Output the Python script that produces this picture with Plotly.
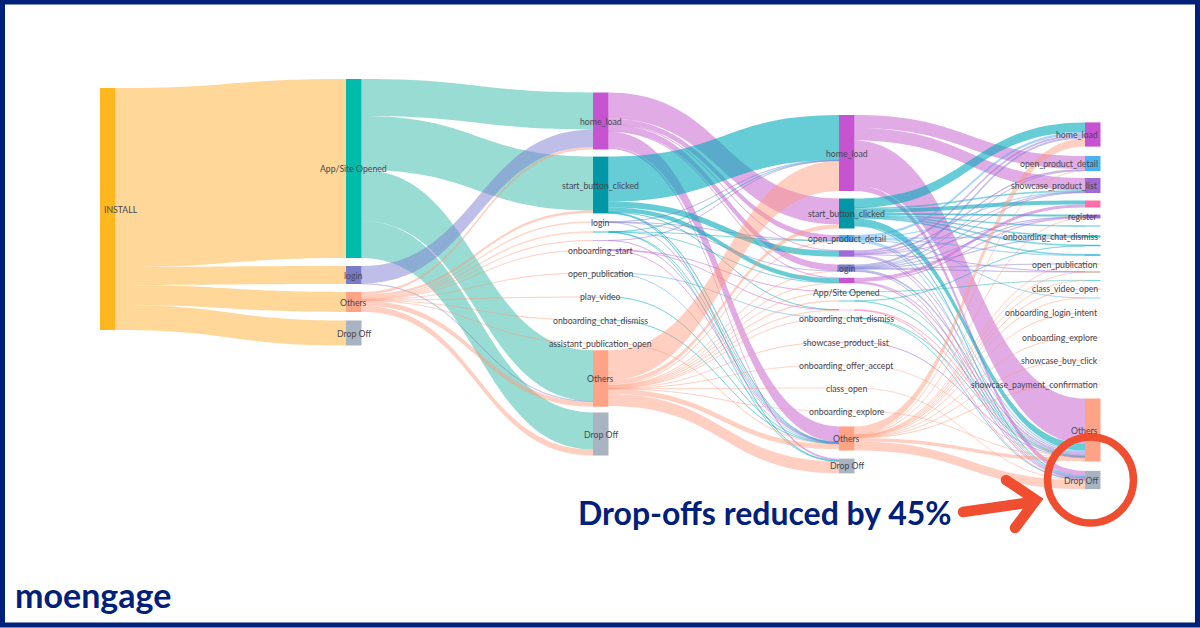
import plotly.graph_objects as go

W, H = 1200, 628

# ---------- data: nodes per column (id, label, palette key) ----------
col0_nodes = [("I", "INSTALL", "install")]
col1_nodes = [("A", "App/Site Opened", "app"), ("L", "login", "login"),
              ("O", "Others", "others"), ("D", "Drop Off", "drop")]
col2_nodes = [("h2", "home_load", "home"), ("s2", "start_button_clicked", "start"),
              ("l2", "login", "login"), ("t2", "", "teal"), ("p2", "", "purple"),
              ("os2", "onboarding_start", "home"), ("op2", "open_publication", "blue"),
              ("pv2", "play_video", "teal"), ("oc2", "onboarding_chat_dismiss", "teal"),
              ("ap2", "assistant_publication_open", "others"),
              ("O2", "Others", "others"), ("D2", "Drop Off", "drop")]
col3_nodes = [("h3", "home_load", "home"), ("s3", "start_button_clicked", "start"),
              ("d3", "open_product_detail", "blue"), ("u3", "", "purple"),
              ("l3", "login", "login"), ("m3", "", "home"),
              ("a3", "App/Site Opened", "app"), ("t3", "", "teal"), ("k3", "", "pinklight"),
              ("c3", "onboarding_chat_dismiss", "teal"), ("p3", "showcase_product_list", "purple"),
              ("f3", "onboarding_offer_accept", "others"), ("g3", "class_open", "others"),
              ("e3", "onboarding_explore", "others"),
              ("O3", "Others", "others"), ("D3", "Drop Off", "drop")]
col4_nodes = [("h4", "home_load", "home"), ("d4", "open_product_detail", "blue"),
              ("p4", "showcase_product_list", "purple"), ("k4", "", "pink"),
              ("r4", "register", "purple"), ("t4", "", "sky"),
              ("c4", "onboarding_chat_dismiss", "teal"), ("u4", "", "teal"),
              ("b4", "", "sky"), ("o4", "open_publication", "install"),
              ("w4", "", "brown"), ("g4", "", "teal"),
              ("v4", "class_video_open", "pink"), ("x4", "", "blue"),
              ("i4", "onboarding_login_intent", "others"), ("e4", "onboarding_explore", "others"),
              ("y4", "showcase_buy_click", "others"), ("z4", "showcase_payment_confirmation", "others"),
              ("O4", "Others", "others"), ("D4", "Drop Off", "drop")]

# ---------- data: flows per stage (source, target, value) ----------
flows_1 = [("I", "A", 179), ("I", "L", 18), ("I", "O", 20), ("I", "D", 25)]
flows_2 = [("A", "h2", 37), ("A", "s2", 54), ("A", "O2", 51), ("A", "D2", 37),
           ("L", "h2", 17.5), ("L", "O2", .5),
           ("O", "h2", 2.5), ("O", "s2", 2.5), ("O", "l2", .8), ("O", "t2", 1), ("O", "os2", .4),
           ("O", "p2", .4), ("O", "op2", .3), ("O", "pv2", .3), ("O", "oc2", .3), ("O", "ap2", .3),
           ("O", "O2", 5), ("O", "D2", 6)]
flows_3 = [("h2", "s3", 26), ("h2", "d3", 5.5), ("h2", "u3", .4),
           ("h2", "l3", 6.5), ("h2", "m3", .5), ("h2", "O3", 15.5), ("h2", "D3", 2),
           ("s2", "h3", 45), ("s2", "u3", 6), ("s2", "m3", 4.5), ("s2", "k3", .2),
           ("s2", "O3", .6), ("s2", "D3", .5),
           ("l2", "h3", .4), ("l2", "d3", .2), ("l2", "l3", .1), ("l2", "O3", .1),
           ("t2", "h3", .3), ("t2", "d3", .1), ("t2", "m3", .1), ("t2", "O3", .3), ("t2", "D3", .2),
           ("p2", "h3", .2), ("p2", "O3", .2),
           ("os2", "a3", .2), ("os2", "k3", .1), ("os2", "O3", .1),
           ("op2", "c3", .15), ("op2", "O3", .15), ("pv2", "O3", .3),
           ("oc2", "O3", .3), ("ap2", "O3", .3),
           ("O2", "h3", 30), ("O2", "s3", 4), ("O2", "d3", 1), ("O2", "l3", .5), ("O2", "a3", .5),
           ("O2", "t3", .8), ("O2", "k3", .5), ("O2", "m3", .3), ("O2", "c3", .3), ("O2", "p3", .3),
           ("O2", "f3", .2), ("O2", "g3", .2), ("O2", "e3", .2),
           ("O2", "O3", 5), ("O2", "D3", 12)]
flows_4 = [("h3", "d4", 13), ("h3", "p4", 12.5), ("h3", "O4", 45), ("h3", "D4", 5.5),
           ("s3", "h4", 9.5), ("s3", "p4", 1), ("s3", "k4", 4), ("s3", "r4", 2), ("s3", "t4", .8),
           ("s3", "c4", .8), ("s3", "u4", 1), ("s3", "b4", .8), ("s3", "O4", 7), ("s3", "D4", .6),
           ("d3", "h4", 2.5), ("d3", "p4", .5), ("d3", "c4", .7), ("d3", "b4", .7), ("d3", "x4", .3),
           ("d3", "O4", 1.6), ("d3", "D4", .7),
           ("u3", "h4", 2), ("u3", "d4", 1.5), ("u3", "p4", .3), ("u3", "r4", .4), ("u3", "w4", .3),
           ("u3", "O4", 1.2), ("u3", "D4", .5),
           ("l3", "h4", 2.2), ("l3", "d4", .3), ("l3", "p4", .7), ("l3", "r4", .4), ("l3", "c4", .5),
           ("l3", "w4", .4), ("l3", "o4", .3), ("l3", "O4", 1.9), ("l3", "D4", .3),
           ("m3", "k4", 3), ("m3", "r4", .8), ("m3", "O4", .8), ("m3", "D4", .9),
           ("a3", "g4", .4), ("a3", "O4", .3), ("t3", "u4", .4), ("t3", "O4", .4),
           ("k3", "O4", .4), ("k3", "D4", .4), ("c3", "O4", .2), ("c3", "D4", .2),
           ("p3", "O4", .3), ("f3", "O4", .2), ("g3", "D4", .2), ("e3", "O4", .2),
           ("O3", "h4", 8), ("O3", "d4", .3), ("O3", "r4", .3), ("O3", "o4", .4), ("O3", "w4", .3),
           ("O3", "g4", .3), ("O3", "v4", .4), ("O3", "x4", .3), ("O3", "i4", .3), ("O3", "e4", .3),
           ("O3", "y4", .3), ("O3", "z4", .4), ("O3", "O4", 3.5), ("O3", "D4", 9)]

# ---------- layout: node centres / label centres in pixels ----------
col_left_px = [100, 346, 593, 839, 1085]
col0_y = [209]
col1_y = [168.5, 275, 302, 333]
col2_y = [121, 185, 222, 232, 240.5, 250, 273, 297, 320, 343, 378.5, 434]
col3_y = [153, 213.5, 238.5, 253.5, 268, 280.5, 292, 301, 310, 318, 342, 365, 388, 411, 438.5, 466]
col4_y = [134.5, 163.5, 185.5, 204, 216.5, 226, 236.5, 245.5, 255, 264, 272, 280.5, 289, 298,
          313, 337, 360, 384, 430, 480]
thickness = 15.5

palette = {
    "install": ("#FFB71F", (255, 176, 50, 0.5)),
    "app": ("#00BBA9", (50, 185, 170, 0.5)),
    "home": ("#C653CF", (195, 90, 205, 0.5)),
    "start": ("#0097A7", (0, 170, 185, 0.6)),
    "others": ("#FFA387", (255, 150, 120, 0.45)),
    "login": ("#7A7CC9", (125, 125, 210, 0.5)),
    "drop": ("#A9B4C2", (169, 180, 194, 0.5)),
    "blue": ("#4AB2F2", (80, 170, 240, 0.5)),
    "purple": ("#9F6AD6", (155, 105, 215, 0.5)),
    "pink": ("#FF6EA5", (255, 110, 165, 0.5)),
    "pinklight": ("#FFB7D2", (255, 110, 165, 0.5)),
    "teal": ("#35C6CE", (0, 170, 185, 0.5)),
    "sky": ("#2FB4E0", (47, 180, 224, 0.5)),
    "brown": ("#B59A7A", (181, 154, 122, 0.5)),
}
NAVY = "#00207A"
RED = "#F04E30"
LABEL = "#48474f"

columns = [col0_nodes, col1_nodes, col2_nodes, col3_nodes, col4_nodes]
col_ys = [col0_y, col1_y, col2_y, col3_y, col4_y]
flows = flows_1 + flows_2 + flows_3 + flows_4

ids, labels, ncolors, xs, ys, col_idx = [], [], [], [], [], []
for c, (nodes, yy) in enumerate(zip(columns, col_ys)):
    for (nid, lab, pal), y in zip(nodes, yy):
        ids.append(nid); labels.append(lab); ncolors.append(palette[pal][0])
        xs.append((col_left_px[c] + thickness / 2) / W); ys.append(y / H); col_idx.append(c)
index = {n: i for i, n in enumerate(ids)}
link_palette = {nid: pal for nodes in columns for nid, _, pal in nodes}

# Sizing padding so that one unit of flow is one pixel: the layout justifies
# sink nodes into the last column, which therefore sets the vertical scale.
sources = {s for s, t, v in flows}
sinks = [n for n in ids if n not in sources]
incoming = {n: sum(v for s, t, v in flows if t == n) for n in ids}
node_pad = (H - sum(incoming[n] for n in sinks)) / (len(sinks) - 1)


def link_rgba(src, value):
    r, g, b, a = palette[link_palette[src]][1]
    if value < 1.2:
        a *= 0.5
    return f"rgba({r},{g},{b},{a:.3f})"


fig = go.Figure(go.Sankey(
    arrangement="fixed",
    domain=dict(x=[0, 1], y=[0, 1]),
    hoverinfo="skip",
    node=dict(label=[""] * len(ids), color=ncolors, x=xs, y=ys, pad=node_pad,
              thickness=thickness, line=dict(width=0)),
    link=dict(source=[index[s] for s, t, v in flows],
              target=[index[t] for s, t, v in flows],
              value=[v for s, t, v in flows],
              color=[link_rgba(s, v) for s, t, v in flows]),
))

def px(x): return x / W
def py(y): return 1 - y / H

annotations = []
for lab, c, y in zip(labels, col_idx, ys):
    if not lab:
        continue
    left = col_left_px[c]
    if c == 0:
        xa, anchor = left + 2, "left"
    elif c == 4:
        xa, anchor = left + 14.5, "right"
    else:
        xa, anchor = left + thickness / 2, "center"
    annotations.append(dict(text=lab, x=px(xa), y=1 - y, xref="paper", yref="paper",
                            xanchor=anchor, yanchor="middle", showarrow=False,
                            font=dict(family="Lato", size=8.7, color=LABEL)))
annotations.append(dict(text="<b>Drop-offs reduced by 45%</b>", x=px(576), y=py(512),
                        xref="paper", yref="paper", xanchor="left", yanchor="middle",
                        showarrow=False, font=dict(family="Lato", size=32, color=NAVY)))
annotations.append(dict(text="<b>moengage</b>", x=px(13), y=py(594), xref="paper", yref="paper",
                        xanchor="left", yanchor="middle", showarrow=False,
                        font=dict(family="Lato", size=34, color=NAVY)))

def circle(cx, cy, r, **kw):
    return dict(type="circle", xref="paper", yref="paper", x0=px(cx - r), x1=px(cx + r),
                y0=py(cy + r), y1=py(cy - r), **kw)

def path_of(points):
    return "M" + " L".join(f"{px(x):.5f},{py(y):.5f}" for x, y in points)

shapes = [
    dict(type="rect", xref="paper", yref="paper", x0=px(2.5), x1=px(W - 2.5), y0=py(H - 3), y1=py(2),
         line=dict(color=NAVY, width=5), fillcolor="rgba(0,0,0,0)"),
    circle(1090.5, 480, 43, line=dict(color=RED, width=7.5), fillcolor="rgba(0,0,0,0)"),
    dict(type="path", xref="paper", yref="paper", path=path_of([(963, 512), (1033, 502)]),
         line=dict(color=RED, width=10.5)),
    dict(type="path", xref="paper", yref="paper", path=path_of([(1006, 480), (1036, 500), (1015, 528)]),
         line=dict(color=RED, width=10.5)),
]
for cx, cy in [(963, 512), (1006, 480), (1015, 528)]:
    shapes.append(circle(cx, cy, 5.25, line=dict(width=0), fillcolor=RED))

fig.update_layout(width=W, height=H, margin=dict(l=0, r=0, t=0, b=0), paper_bgcolor="white",
                  annotations=annotations, shapes=shapes)
fig.write_html("out.html", config=dict(displayModeBar=False),
               post_script="document.body.style.margin='0';")
